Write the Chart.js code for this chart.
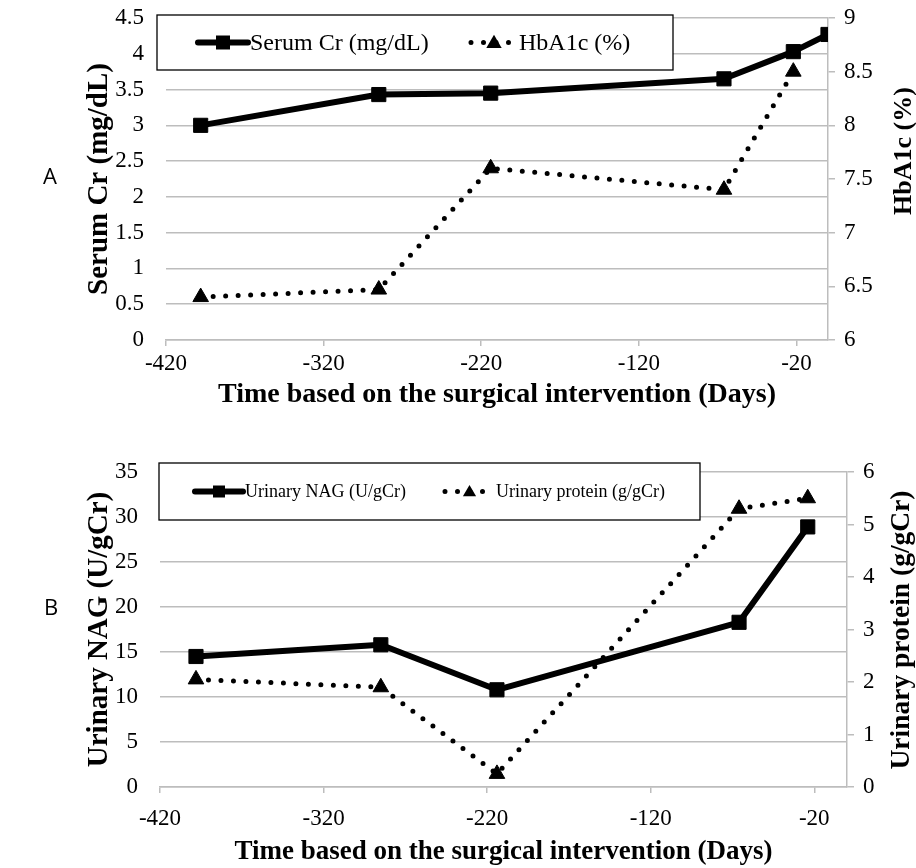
<!DOCTYPE html>
<html>
<head>
<meta charset="utf-8">
<script src="https://cdn.jsdelivr.net/npm/chart.js@4.4.0/dist/chart.umd.min.js"></script>
<style>
  body { margin: 0; background: #fff; }
  #page { position: relative; width: 916px; height: 868px; }
  .panel { position: absolute; left: 0; width: 916px; }
  .tag { position: absolute; font-family: 'Open Sans', sans-serif; font-size: 22px; color: #000; }
</style>
</head>
<body>
<div id="page">
  <div class="panel" style="top:0;height:420px"><canvas id="chartA" width="916" height="420"></canvas></div>
  <div class="panel" style="top:420px;height:448px"><canvas id="chartB" width="916" height="448"></canvas></div>
  <div class="tag" style="left:43px;top:160px">A</div>
  <div class="tag" style="left:44px;top:591px">B</div>
</div>
<script>
// tick positions on the time axis
const xTicks = [-420, -320, -220, -120, -20];

// panel A
const daysA = [-398, -285, -214, -66, -22, 0];
const serumCr = [3.0, 3.43, 3.45, 3.65, 4.03, 4.27];
const hba1c = [6.4, 6.47, 7.6, 7.4, 8.5, null];

// panel B
const daysB = [-398, -285, -214, -66, -24];
const urinaryNag = [14.5, 15.8, 10.8, 18.3, 28.9];
const urinaryProtein = [2.05, 1.9, 0.25, 5.3, 5.5];

const SERIF = "'Liberation Serif', 'Times New Roman', serif";
const GRID = '#bdbdbd';
const TICK_SIZE = 23;

function points(xs, ys) {
  return xs.map((x, i) => ({ x: x, y: ys[i] })).filter(p => p.y !== null);
}

function solidSet(label, xs, ys, axis) {
  return {
    label: label, data: points(xs, ys), yAxisID: axis,
    borderColor: '#000', backgroundColor: '#000', borderWidth: 6,
    borderCapStyle: 'round', borderJoinStyle: 'round',
    pointStyle: 'rect', pointRadius: 10, pointBorderWidth: 1,
    pointBackgroundColor: '#000', pointBorderColor: '#000'
  };
}

function dottedSet(label, xs, ys, axis) {
  return {
    label: label, data: points(xs, ys), yAxisID: axis,
    borderColor: '#000', backgroundColor: '#000', borderWidth: 5,
    borderDash: [0, 12.5], borderCapStyle: 'round',
    pointStyle: 'triangle', pointRadius: 9, pointBorderWidth: 1,
    pointBackgroundColor: '#000', pointBorderColor: '#000'
  };
}

// boxed legend drawn inside the plot, like the original
const boxLegend = {
  id: 'boxLegend',
  afterDatasetsDraw(chart, args, opts) {
    const ctx = chart.ctx;
    const b = opts.box;
    ctx.save();
    ctx.fillStyle = '#fff';
    ctx.fillRect(b.x, b.y, b.w, b.h);
    ctx.strokeStyle = '#000';
    ctx.lineWidth = 1.3;
    ctx.strokeRect(b.x, b.y, b.w, b.h);
    const cy = b.y + b.h / 2;
    opts.items.forEach((it, i) => {
      const ds = chart.data.datasets[i];
      ctx.strokeStyle = '#000';
      ctx.fillStyle = '#000';
      ctx.lineWidth = ds.borderWidth;
      ctx.lineCap = 'round';
      ctx.setLineDash(ds.borderDash || []);
      ctx.beginPath();
      ctx.moveTo(it.x, cy);
      ctx.lineTo(it.x + it.len, cy);
      ctx.stroke();
      ctx.setLineDash([]);
      const mx = it.x + it.len / 2;
      const s = opts.marker;
      ctx.beginPath();
      if (ds.pointStyle === 'rect') {
        ctx.rect(mx - s / 2, cy - s / 2, s, s);
      } else {
        ctx.moveTo(mx, cy - s * 0.55);
        ctx.lineTo(mx + s * 0.55, cy + s * 0.4);
        ctx.lineTo(mx - s * 0.55, cy + s * 0.4);
        ctx.closePath();
      }
      ctx.fill();
      ctx.font = opts.fontSize + 'px ' + SERIF;
      ctx.textAlign = 'left';
      ctx.textBaseline = 'middle';
      ctx.fillText(ds.label, it.x + it.len + 2, cy + 1);
    });
    ctx.restore();
  }
};

// right-hand axis title reads bottom-to-top in the original
const rightTitle = {
  id: 'rightTitle',
  afterDraw(chart, args, opts) {
    const ctx = chart.ctx;
    ctx.save();
    ctx.font = 'bold ' + opts.size + 'px ' + SERIF;
    ctx.fillStyle = '#000';
    ctx.textAlign = 'center';
    ctx.textBaseline = 'middle';
    ctx.translate(opts.x, opts.y);
    ctx.rotate(-Math.PI / 2);
    ctx.fillText(opts.text, 0, 0);
    ctx.restore();
  }
};

function plainLabel(v) { return String(v); }

function makeChart(id, cfg) {
  return new Chart(document.getElementById(id), {
    type: 'line',
    data: { datasets: cfg.datasets },
    plugins: [boxLegend, rightTitle],
    options: {
      responsive: false,
      animation: false,
      events: [],
      layout: { padding: { left: 80, top: cfg.top, right: 0, bottom: 0 } },
      plugins: {
        legend: { display: false },
        tooltip: { enabled: false },
        boxLegend: cfg.legend,
        rightTitle: cfg.rightTitle
      },
      scales: {
        x: {
          type: 'linear', min: -420, max: 0,
          afterBuildTicks: s => { s.ticks = xTicks.map(v => ({ value: v })); },
          afterFit: s => { s.height = cfg.xHeight; },
          border: { display: true, color: GRID, width: 1.5 },
          grid: { drawOnChartArea: false, drawTicks: true, tickLength: 6, color: GRID, lineWidth: 1.5 },
          ticks: { color: '#000', font: { family: SERIF, size: TICK_SIZE }, padding: cfg.xPad, maxRotation: 0, callback: plainLabel },
          title: { display: true, text: 'Time based on the surgical intervention (Days)', color: '#000',
                   font: { family: SERIF, size: cfg.xTitleSize, weight: 'bold' }, padding: { top: 0, bottom: cfg.xTitlePad } }
        },
        yL: {
          type: 'linear', position: 'left', min: cfg.left.min, max: cfg.left.max,
          ticks: { stepSize: cfg.left.step, color: '#000', font: { family: SERIF, size: TICK_SIZE }, padding: 22, callback: plainLabel },
          afterFit: s => { s.width = cfg.leftWidth; s.paddingTop = 0; s.paddingBottom = 0; },
          border: { display: false },
          grid: { drawTicks: false, color: GRID, lineWidth: 1.5 },
          title: { display: true, text: cfg.left.title, color: '#000',
                   font: { family: SERIF, size: 29, weight: 'bold' }, padding: { top: 2.5, bottom: 0 } }
        },
        yR: {
          type: 'linear', position: 'right', min: cfg.right.min, max: cfg.right.max,
          ticks: { stepSize: cfg.right.step, color: '#000', font: { family: SERIF, size: TICK_SIZE }, padding: 9, callback: plainLabel },
          afterFit: s => { s.width = cfg.rightWidth; s.paddingTop = 0; s.paddingBottom = 0; },
          border: { display: true, color: GRID, width: 1.5 },
          grid: { drawOnChartArea: false, drawTicks: true, tickLength: 7, color: GRID, lineWidth: 1.5 }
        }
      }
    }
  });
}

makeChart('chartA', {
  datasets: [
    solidSet('Serum Cr (mg/dL)', daysA, serumCr, 'yL'),
    dottedSet('HbA1c (%)', daysA, hba1c, 'yR')
  ],
  top: 18, xHeight: 80, xPad: 4, xTitleSize: 28, xTitlePad: 8, leftWidth: 86, rightWidth: 88,
  left: { min: 0, max: 4.5, step: 0.5, title: 'Serum Cr (mg/dL)' },
  right: { min: 6, max: 9, step: 0.5 },
  rightTitle: { text: 'HbA1c (%)', x: 904, y: 151, size: 26 },
  legend: {
    box: { x: 157, y: 15, w: 516, h: 55 }, fontSize: 24, marker: 14,
    items: [{ x: 198, len: 50 }, { x: 471, len: 46 }]
  }
});

makeChart('chartB', {
  datasets: [
    solidSet('Urinary NAG (U/gCr)', daysB, urinaryNag, 'yL'),
    dottedSet('Urinary protein (g/gCr)', daysB, urinaryProtein, 'yR')
  ],
  top: 52, xHeight: 81, xPad: 12, xTitleSize: 27, xTitlePad: 0, leftWidth: 80, rightWidth: 69,
  left: { min: 0, max: 35, step: 5, title: 'Urinary NAG (U/gCr)' },
  right: { min: 0, max: 6, step: 1 },
  rightTitle: { text: 'Urinary protein (g/gCr)', x: 902, y: 630 - 420, size: 27.5 },
  legend: {
    box: { x: 159, y: 43, w: 541, h: 57 }, fontSize: 18, marker: 12,
    items: [{ x: 195, len: 48 }, { x: 445, len: 49 }]
  }
});
</script>
</body>
</html>
